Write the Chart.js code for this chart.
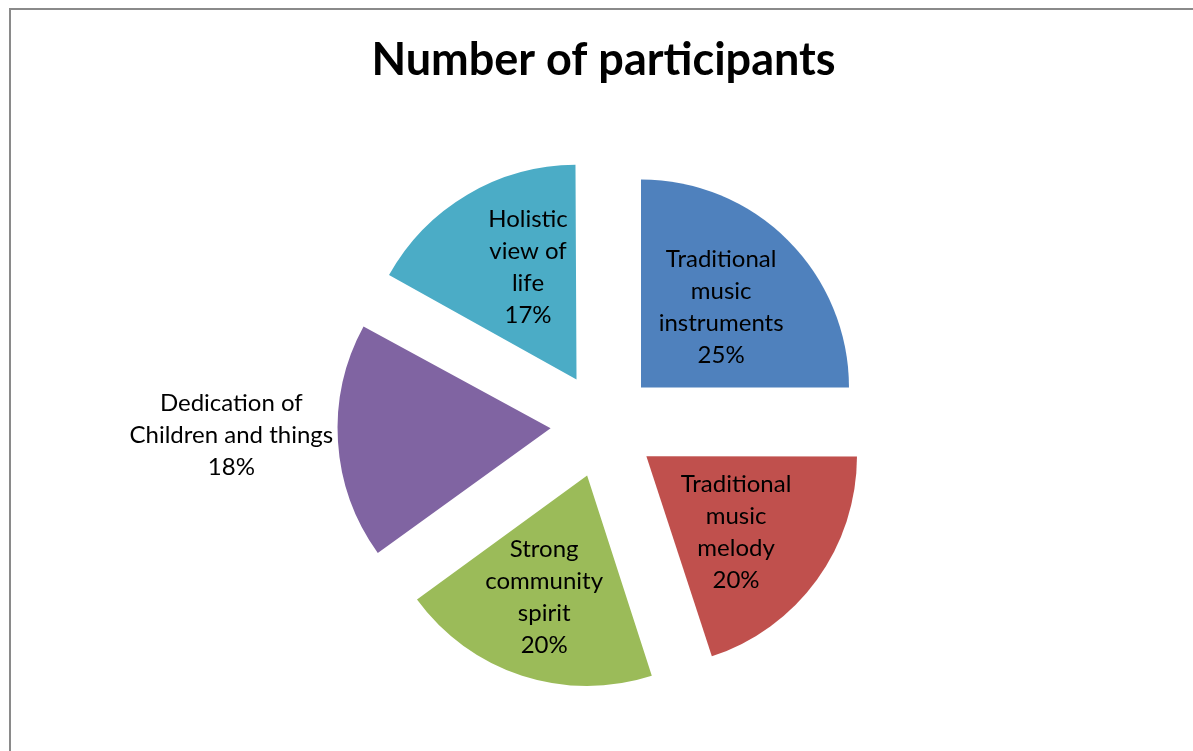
<!DOCTYPE html>
<html>
<head>
<meta charset="utf-8">
<script src="https://cdn.jsdelivr.net/npm/chart.js@4.4.1/dist/chart.umd.min.js"></script>
<style>
  html, body { margin: 0; padding: 0; background: #fff; }
  #wrap { width: 1193px; height: 751px; position: relative; }
</style>
</head>
<body>
<div id="wrap"><canvas id="participantsChart"></canvas></div>
<script>
var categories = [
    'Traditional music instruments',
    'Traditional music melody',
    'Strong community spirit',
    'Dedication of Children and things',
    'Holistic view of life'
];
var labelLines = [
    ['Traditional', 'music', 'instruments'],
    ['Traditional', 'music', 'melody'],
    ['Strong', 'community', 'spirit'],
    ['Dedication of', 'Children and things'],
    ['Holistic', 'view of', 'life']
];
var participants = [25, 20, 20, 18, 17];
var sliceColors = ['#4F81BD', '#C0504D', '#9BBB59', '#8064A2', '#4BACC6'];

// where each label sits: distance from centre (x radius) and a small turn in degrees
var labelDist = [0.80, 0.82, 0.876, 1.79, 0.84];
var labelTurn = [0, 3, 1, 2, 5];

var fontFamily = 'Lato, "Open Sans", sans-serif';

var frame = {
    id: 'frame',
    beforeDraw: function (chart) {
        var ctx = chart.ctx;
        ctx.save();
        ctx.fillStyle = '#fff';
        ctx.fillRect(0, 0, chart.width, chart.height);
        ctx.strokeStyle = '#8a8a8a';
        ctx.lineWidth = 2;
        ctx.strokeRect(10, 9, chart.width + 20, chart.height + 20);
        ctx.restore();
    }
};

var sliceLabels = {
    id: 'sliceLabels',
    afterDatasetsDraw: function (chart) {
        var ctx = chart.ctx;
        var meta = chart.getDatasetMeta(0);
        var total = participants.reduce(function (a, b) { return a + b; }, 0);
        ctx.save();
        ctx.font = '24px ' + fontFamily;
        ctx.fillStyle = '#000';
        ctx.textAlign = 'center';
        ctx.textBaseline = 'middle';
        meta.data.forEach(function (arc, i) {
            var mid = (arc.startAngle + arc.endAngle) / 2 + labelTurn[i] * Math.PI / 180;
            var d = arc.outerRadius * labelDist[i];
            var cx = arc.x + Math.cos(mid) * d;
            var cy = arc.y + Math.sin(mid) * d;
            var lines = labelLines[i].concat([Math.round(participants[i] / total * 100) + '%']);
            var lh = 32;
            var y0 = cy - (lines.length - 1) * lh / 2;
            lines.forEach(function (t, k) {
                ctx.fillText(t, cx, y0 + k * lh);
            });
        });
        ctx.restore();
    }
};

var ctx = document.getElementById('participantsChart').getContext('2d');

var myChart = new Chart(ctx, {
    type: 'pie',
    data: {
        labels: categories,
        datasets: [
            {
                data: participants,
                backgroundColor: sliceColors,
                borderWidth: 0,
                offset: 212,   // arcs move offset / 4 px outwards
                hoverOffset: 0
            }
        ]
    },
    options: {
        responsive: true,
        maintainAspectRatio: false,
        animation: false,
        radius: 208,
        layout: {
            padding: { top: 0, left: 14, right: 0, bottom: 0 }
        },
        plugins: {
            legend: { display: false },
            tooltip: { enabled: false },
            title: {
                display: true,
                text: 'Number of participants',
                color: '#000',
                font: { family: fontFamily, size: 45, weight: 'bold', lineHeight: 1.2 },
                padding: { top: 33, bottom: 12 }
            }
        }
    },
    plugins: [frame, sliceLabels]
});
</script>
</body>
</html>
